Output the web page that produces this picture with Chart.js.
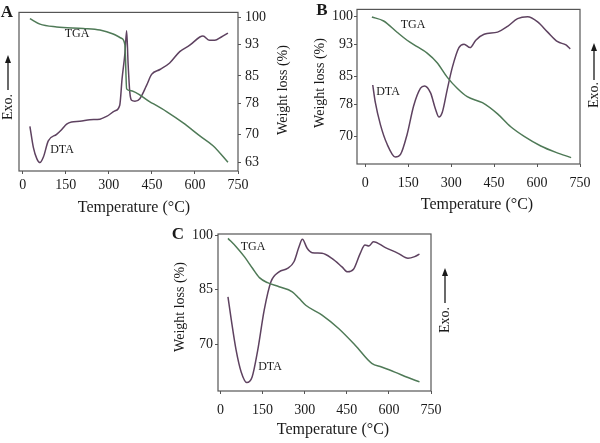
<!DOCTYPE html>
<html>
<head>
<meta charset="utf-8">
<script src="https://cdn.jsdelivr.net/npm/chart.js@4.4.1/dist/chart.umd.min.js"></script>
<style>
  html, body { margin: 0; padding: 0; background: #fff; }
  body { width: 600px; height: 443px; position: relative; overflow: hidden; }
  .panel { position: absolute; width: 300px; }
  #wrapA { left: 0; top: 0; height: 222px; }
  #wrapB { left: 300px; top: 0; height: 222px; }
  #wrapC { left: 160px; top: 220px; height: 223px; }
</style>
</head>
<body>
<div class="panel" id="wrapA"><canvas id="chartA"></canvas></div>
<div class="panel" id="wrapB"><canvas id="chartB"></canvas></div>
<div class="panel" id="wrapC"><canvas id="chartC"></canvas></div>

<script>
// ---- data (temperature in °C, weight in %, DTA in arbitrary units 0-100) ----
const tempTicks = [0, 150, 300, 450, 600, 750];

// Panel A
const aWeightTicks = [63, 70, 78, 85, 93, 100];
const aTgaTemp   = [25, 60, 118, 211, 269, 315, 344, 356, 362, 373, 443, 501, 559, 617, 663, 715];
const aTgaWeight = [99.6, 98.2, 97.5, 97.1, 96.7, 95.7, 94.6, 92.9, 81.7, 81.3, 78.4, 75.9, 73.0, 69.7, 67.2, 63.0];
const aDtaTemp   = [25, 37, 49, 60, 72, 89, 118, 136, 153, 170, 199, 234, 269, 292, 321, 338, 346, 356, 362, 367, 373, 379, 391, 408, 431, 449, 478, 512, 547, 582, 617, 628, 651, 669, 692, 715];
const aDtaSignal = [28.2, 14.9, 7.8, 5.3, 8.8, 19, 23.1, 26.2, 29.6, 30.9, 31.3, 32.3, 32.7, 34.4, 37.9, 41.5, 57.9, 74.2, 88.5, 68.1, 49.7, 44.6, 44, 45.6, 53.8, 60.9, 64, 68.1, 75.3, 79.3, 84.5, 85.1, 82.4, 82.4, 84.5, 87];

// Panel B
const bWeightTicks = [70, 78, 85, 93, 100];
const bTgaTemp   = [23, 64, 111, 146, 181, 216, 251, 286, 321, 356, 409, 462, 508, 555, 613, 666, 719];
const bTgaWeight = [99.8, 98.8, 96, 94, 92.4, 90.8, 88.4, 84.8, 82, 79.9, 78.4, 75.6, 72.4, 70, 67.6, 66, 64.7];
const bDtaTemp   = [26, 35, 53, 76, 105, 123, 146, 169, 193, 207, 228, 245, 257, 269, 286, 304, 327, 345, 366, 386, 415, 462, 497, 532, 567, 602, 637, 672, 701, 716];
const bDtaSignal = [51.1, 39.8, 25.3, 12.9, 4.5, 6.2, 19.1, 37.7, 49.1, 50.5, 46, 35.6, 30.4, 33.5, 48, 62.5, 75.3, 77.5, 75.3, 80.1, 83.9, 85.3, 89, 94, 95.2, 91.9, 85.3, 79.1, 77, 74.5];

// Panel C
const cWeightTicks = [70, 85, 100];
const cTgaTemp   = [27, 56, 86, 115, 139, 168, 209, 256, 280, 304, 362, 421, 480, 539, 574, 621, 668, 709];
const cTgaWeight = [99.1, 96.8, 94, 90.8, 88.3, 86.9, 85.8, 84.4, 82.6, 80.7, 78, 74.3, 69.7, 64.7, 63.7, 62.3, 60.8, 59.6];
const cDtaTemp   = [27, 39, 56, 74, 94, 113, 133, 156, 180, 209, 239, 262, 280, 292, 309, 327, 362, 397, 433, 453, 474, 498, 515, 529, 545, 586, 633, 668, 692, 709];
const cDtaSignal = [60, 45.1, 26, 12.1, 5.4, 8.9, 26, 51.5, 69.6, 75.9, 78.1, 82.3, 91.9, 96.6, 90.9, 88.1, 87.7, 84.5, 79.1, 75.9, 77.5, 87.7, 93, 92.4, 95.1, 91.5, 87.7, 84.5, 85.6, 87.2];

const TGA_COLOR = '#4f7a57';
const DTA_COLOR = '#5e4260';
const INK = '#1a1a1a';
const SERIF = "'Liberation Serif', 'DejaVu Serif', serif";

function pts(xs, ys) {
  return xs.map((x, i) => ({ x: x, y: ys[i] }));
}

// draws box, panel letter, curve labels, axis titles and the Exo. arrow
const decorPlugin = {
  id: 'decor',
  afterDraw(chart, args, o) {
    const ctx = chart.ctx;
    const ca = chart.chartArea;
    ctx.save();
    ctx.strokeStyle = '#555';
    ctx.lineWidth = 1.2;
    ctx.strokeRect(ca.left, ca.top, ca.right - ca.left, ca.bottom - ca.top);

    ctx.fillStyle = INK;
    ctx.textAlign = 'center';
    ctx.textBaseline = 'middle';

    ctx.font = 'bold 17px ' + SERIF;
    ctx.fillText(o.letter, o.letterPos[0], o.letterPos[1]);

    ctx.font = '12px ' + SERIF;
    ctx.fillText('TGA', o.tgaPos[0], o.tgaPos[1]);
    ctx.fillText('DTA', o.dtaPos[0], o.dtaPos[1]);

    ctx.font = '16px ' + SERIF;
    ctx.fillText('Temperature (°C)', o.xTitle[0], o.xTitle[1]);

    ctx.font = '14px ' + SERIF;
    ctx.save();
    ctx.translate(o.yTitle[0], o.yTitle[1]);
    ctx.rotate(-Math.PI / 2);
    ctx.fillText('Weight loss (%)', 0, 0);
    ctx.restore();

    // Exo. arrow
    const ex = o.exo.x;
    ctx.strokeStyle = INK;
    ctx.lineWidth = 1.3;
    ctx.beginPath();
    ctx.moveTo(ex, o.exo.arrowBottom);
    ctx.lineTo(ex, o.exo.arrowTop + 5);
    ctx.stroke();
    ctx.beginPath();
    ctx.moveTo(ex, o.exo.arrowTop);
    ctx.lineTo(ex - 3, o.exo.arrowTop + 8);
    ctx.lineTo(ex + 3, o.exo.arrowTop + 8);
    ctx.closePath();
    ctx.fill();
    ctx.save();
    ctx.translate(ex, o.exo.textY);
    ctx.rotate(-Math.PI / 2);
    ctx.font = '14px ' + SERIF;
    ctx.fillText('Exo.', 0, 0);
    ctx.restore();
    ctx.restore();
  }
};

function makePanel(canvasId, cfg) {
  const tickFont = { family: SERIF, size: 14 };
  const weightAxis = {
    type: 'linear',
    position: cfg.weightSide,
    min: cfg.wMin,
    max: cfg.wMax,
    afterBuildTicks: s => { s.ticks = cfg.wTicks.map(v => ({ value: v })); },
    afterFit: s => { s.width = cfg.wAxisWidth; },
    border: { display: false },
    grid: { drawOnChartArea: false, tickLength: 3, color: '#555' },
    ticks: { font: tickFont, color: INK, padding: cfg.wPad, callback: v => v }
  };
  return new Chart(document.getElementById(canvasId), {
    type: 'line',
    data: {
      datasets: [
        {
          label: 'TGA',
          data: pts(cfg.tgaT, cfg.tgaW),
          yAxisID: 'yW',
          borderColor: TGA_COLOR,
          borderWidth: 1.5,
          pointRadius: 0,
          cubicInterpolationMode: 'monotone'
        },
        {
          label: 'DTA',
          data: pts(cfg.dtaT, cfg.dtaS),
          yAxisID: 'yD',
          borderColor: DTA_COLOR,
          borderWidth: 1.5,
          pointRadius: 0,
          cubicInterpolationMode: 'monotone'
        }
      ]
    },
    options: {
      responsive: true,
      maintainAspectRatio: false,
      animation: false,
      layout: { padding: cfg.padding },
      plugins: {
        legend: { display: false },
        tooltip: { enabled: false },
        decor: cfg.decor
      },
      scales: {
        x: {
          type: 'linear',
          min: cfg.xMin,
          max: 750,
          afterBuildTicks: s => { s.ticks = tempTicks.map(v => ({ value: v })); },
          afterFit: s => { s.height = cfg.xAxisHeight; },
          border: { display: false },
          grid: { drawOnChartArea: false, tickLength: 3, color: '#555' },
          ticks: { font: tickFont, color: INK, padding: cfg.xPad, autoSkip: false, maxRotation: 0, callback: v => v }
        },
        yW: weightAxis,
        yD: { type: 'linear', display: false, min: 0, max: 100 }
      }
    },
    plugins: [decorPlugin]
  });
}

makePanel('chartA', {
  tgaT: aTgaTemp, tgaW: aTgaWeight, dtaT: aDtaTemp, dtaS: aDtaSignal,
  wTicks: aWeightTicks, wMin: 60.75, wMax: 101.2, xMin: -13,
  weightSide: 'right', wAxisWidth: 62, wPad: 4, xAxisHeight: 51, xPad: 3,
  padding: { left: 19, top: 8, right: 0, bottom: 0 },
  decor: {
    letter: 'A', letterPos: [7, 13],
    tgaPos: [77, 34], dtaPos: [62, 150],
    xTitle: [134, 208], yTitle: [283, 90],
    exo: { x: 8, arrowTop: 55, arrowBottom: 90, textY: 107 }
  }
});

makePanel('chartB', {
  tgaT: bTgaTemp, tgaW: bTgaWeight, dtaT: bDtaTemp, dtaS: bDtaSignal,
  wTicks: bWeightTicks, wMin: 63.1, wMax: 101.7, xMin: -29,
  weightSide: 'left', wAxisWidth: 57, wPad: 1, xAxisHeight: 58, xPad: 8,
  padding: { left: 0, top: 3, right: 20, bottom: 0 },
  decor: {
    letter: 'B', letterPos: [22, 11],
    tgaPos: [113, 25], dtaPos: [88, 92],
    xTitle: [177, 205], yTitle: [20, 83],
    exo: { x: 294, arrowTop: 43, arrowBottom: 80, textY: 95 }
  }
});

makePanel('chartC', {
  tgaT: cTgaTemp, tgaW: cTgaWeight, dtaT: cDtaTemp, dtaS: cDtaSignal,
  wTicks: cWeightTicks, wMin: 57.1, wMax: 100.3, xMin: -8.5,
  weightSide: 'left', wAxisWidth: 58, wPad: 2, xAxisHeight: 52, xPad: 8,
  padding: { left: 0, top: 14, right: 29, bottom: 0 },
  decor: {
    letter: 'C', letterPos: [18, 15],
    tgaPos: [93, 27], dtaPos: [110, 147],
    xTitle: [173, 210], yTitle: [20, 87],
    exo: { x: 285, arrowTop: 48, arrowBottom: 83, textY: 100 }
  }
});
</script>
</body>
</html>
